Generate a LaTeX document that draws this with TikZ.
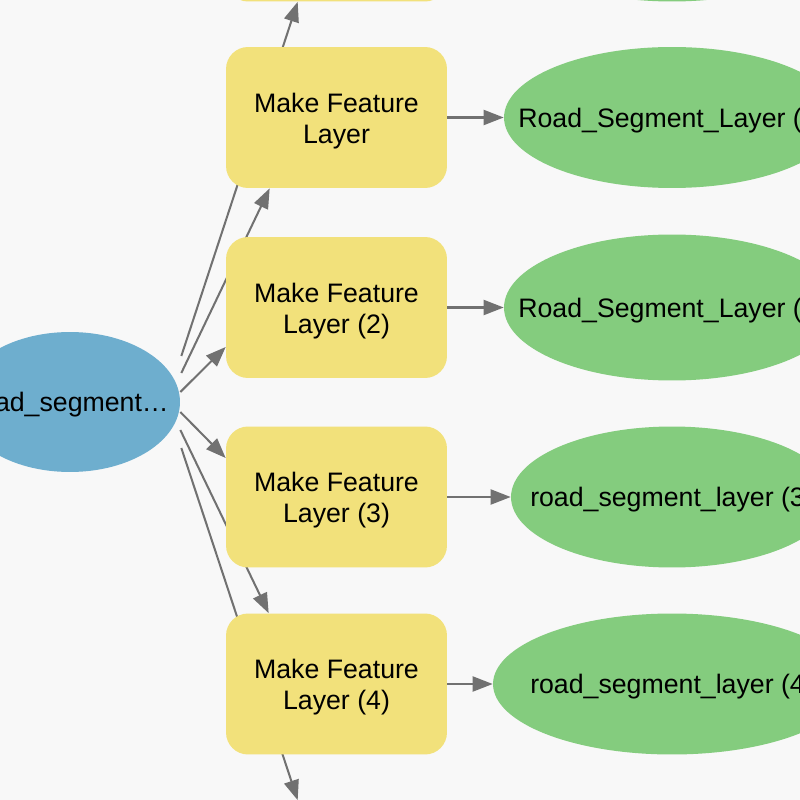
\documentclass[tikz,border=0pt]{standalone}
\usepackage{fontspec}
\setmainfont{Liberation Sans}
\usetikzlibrary{shapes.geometric,arrows.meta,backgrounds}
\definecolor{canvas}{HTML}{F8F8F8}
\definecolor{toolyellow}{HTML}{F2E17B}
\definecolor{datagreen}{HTML}{84CC7E}
\definecolor{inputblue}{HTML}{6EAECE}
\definecolor{link}{HTML}{717171}
\newcommand{\zw}[1]{\makebox[0pt]{#1}}

\begin{document}
\begin{tikzpicture}[x=0.02cm, y=-0.02cm, font=\fontsize{15.2pt}{17.6pt}\selectfont,
  tool/.style={rectangle, rounded corners=0.44cm, fill=toolyellow, minimum width=4.42cm,
    minimum height=2.82cm, inner sep=0pt, align=center, text height=32.4pt},
  output/.style={ellipse, fill=datagreen, minimum height=2.82cm, inner sep=0pt, text height=14.4pt},
  source/.style={ellipse, fill=inputblue, minimum width=4.4cm, minimum height=2.8cm, inner sep=0pt,
    text height=14.4pt},
  flow/.style={draw=link, line width=1.15pt, -{Triangle[length=0.4cm,width=0.3cm]}}]
  \useasboundingbox (0,0) rectangle (800,800);
  \clip (0,0) rectangle (800,800);

  % Input variable and the Make Feature Layer tools it feeds.
  \node[source] (in) at (70,402) {\zw{road\_segment…}};
  \node[tool] (m0) at (336.5,-69) {};
  \node[tool] (m1) at (336.5,117.5) {Make Feature\\Layer};
  \node[tool] (m2) at (336.5,307.5) {Make Feature\\Layer (2)};
  \node[tool] (m3) at (336.5,497) {Make Feature\\Layer (3)};
  \node[tool] (m4) at (336.5,684) {Make Feature\\Layer (4)};
  \node[tool] (m5) at (336.5,871) {};

  % Derived layers, cut off by the right edge.
  \node[output, minimum width=6.72cm] (o0) at (672,-69) {};
  \node[output, minimum width=6.72cm] (o1) at (672,117.5) {\zw{Road\_Segment\_Layer (1)}};
  \node[output, minimum width=6.72cm, minimum height=2.92cm] (o2) at (672,307.5) {\zw{Road\_Segment\_Layer (2)}};
  \node[output, minimum width=6.44cm] (o3) at (672,497) {\zw{road\_segment\_layer (3)}};
  \node[output, minimum width=7.16cm] (o4) at (672,684) {\zw{road\_segment\_layer (4)}};

  \draw[flow] (m1) -- (o1);
  \draw[flow] (m2) -- (o2);
  \draw[flow] (m3) -- (o3);
  \draw[flow] (m4) -- (o4);

  % Fan-out runs behind the tool boxes.
  \begin{pgfonlayer}{background}
    \clip (0,0) rectangle (800,800);
    \fill[canvas] (0,0) rectangle (800,800);
    \draw[flow] ([shift={(1,-46)}]in.east) -- ([shift={(72,0)}]m0.south west);
    \draw[flow] ([shift={(1,-29)}]in.east) -- ([shift={(44,0)}]m1.south west);
    \draw[flow] ([shift={(0,-10)}]in.east) -- ([shift={(0,39.5)}]m2.west);
    \draw[flow] ([shift={(0,10)}]in.east) -- ([shift={(0,-39)}]m3.west);
    \draw[flow] ([shift={(0,28)}]in.east) -- ([shift={(43,0)}]m4.north west);
    \draw[flow] ([shift={(1,46)}]in.east) -- ([shift={(72,0)}]m5.north west);
  \end{pgfonlayer}
\end{tikzpicture}
\end{document}
